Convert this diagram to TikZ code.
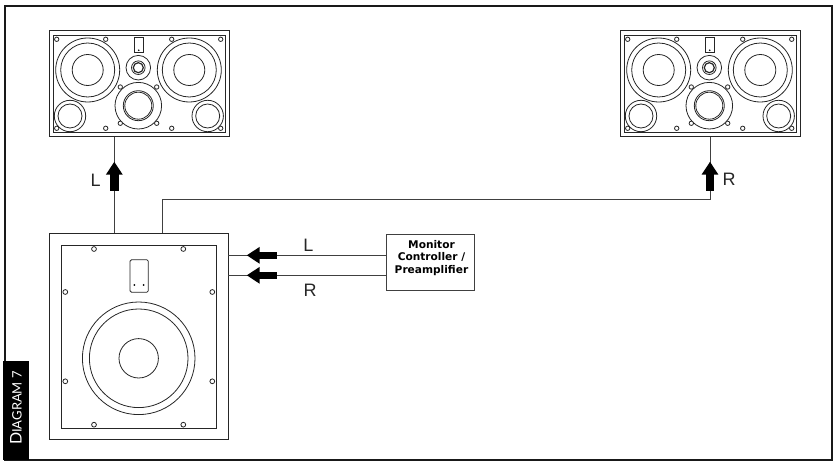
\documentclass[tikz,border=0pt]{standalone}
\usepackage{fontspec}
\setmainfont{Liberation Sans}
\newfontfamily\ctrlfont{DejaVu Sans}
\newfontfamily\tabfont{Lato}
\usetikzlibrary{arrows.meta}
\begin{document}
\begin{tikzpicture}[
	x=1pt, y=-1pt,
	frame/.style = {draw=black!90, line width=1.3pt},
	cab/.style   = {draw=black!85, line width=1pt, rectangle, inner sep=0pt},
	drv/.style   = {draw=black!85, line width=0.8pt},
	wire/.style  = {draw=black!75, line width=0.9pt},
	sig/.style   = {line width=8.5pt, -{Triangle[length=13pt,width=16pt]}},
	lab/.style   = {font=\fontsize{18}{18}\selectfont, inner sep=0pt, text=black!85},
	>=latex]
	
	\useasboundingbox (0,0) rectangle (839,465);
	
	% outer frame and side tab
	\node[frame, rectangle, inner sep=0pt, minimum width=827pt, minimum height=454pt] (border) at (418.5,233) {};
	\node[fill=black, inner sep=0pt, minimum width=99pt, minimum height=26pt, rotate=90] (tab) at (16,410.5) {};
	\node[text=white, inner sep=0pt, rotate=90, font=\tabfont\fontsize{16}{16}\selectfont] (tabtxt) at (16,408)
	      {D{\fontsize{13}{16}\selectfont IAGRAM 7}};
	
	% the two main speakers
	\foreach \side/\sx in {L/0,R/571}{
		\begin{scope}[xshift=\sx pt]
			\node[cab, minimum width=180pt, minimum height=106pt] (spk\side) at (139,84) {};
			\node[cab, line width=0.8pt, minimum width=172pt, minimum height=97pt] (baf\side) at (139,83.5) {};
			\draw[drv] (134,37.7) rectangle (143.3,52.7);
			\fill (138.7,50.3) circle (0.9);
			\foreach \cx in {87.7,189.3}{
				\draw[drv] (\cx,70) circle (32) (\cx,70) circle (27) (\cx,70) circle (15.5);
			}
			\draw[drv] (138.3,67.7) circle (12.3) (138.3,67.7) circle (6.8);
			\draw[drv, line width=1.2pt] (138.3,67.7) circle (5);
			\draw[drv] (138.3,105.7) circle (23.3) (138.3,105.7) circle (13.5);
			\draw[drv] (138.3,105.7) circle (15);
			\foreach \cx in {70,207.7}{
				\draw[drv] (\cx,116) circle (15.7) (\cx,116) circle (12);
			}
			% screws
			\foreach \cx in {56.7,105.7,171.7,220.7}{
				\draw[drv, fill=white] (\cx,39.3) circle (2.2) (\cx,128.3) circle (2.2);
			}
			\foreach \cx in {120.3,156.7}{
				\draw[drv, fill=white] (\cx,87) circle (2.2) (\cx,123.3) circle (2.2);
			}
		\end{scope}
	}
	
	% subwoofer
	\node[cab, minimum width=178.6pt, minimum height=206.7pt] (sub) at (139,336.6) {};
	\node[cab, line width=0.9pt, minimum width=155.7pt, minimum height=183.3pt] (subbaf) at (138.85,336.65) {};
	\draw[drv, rounded corners=1.5pt] (130,259.7) rectangle (148.3,292.3);
	\fill (134.3,285) circle (1) (143.7,285) circle (1);
	\draw[drv] (138.7,358.3) circle (56.3) (138.7,358.3) circle (49.3) (138.7,358.3) circle (19.7);
	\foreach \cx/\cy in {94/249,183.3/249,94/424.7,183.3/424.7,65.3/292,212.3/292,65.3/381.3,212.3/381.3}{
		\draw[drv, fill=white] (\cx,\cy) circle (2.4);
	}
	
	% controller
	\node[cab, draw=black!75, minimum width=88pt, minimum height=56pt] (ctrl) at (430,263) {};
	\node[inner sep=0pt, align=center, font=\ctrlfont\bfseries\fontsize{10.6}{12.6}\selectfont] (ctrltxt) at (431.5,258)
	      {Monitor\\Controller /\\Preamplifier};
	
	% connection points on the boxes
	\coordinate (subL) at (114.3,233.3);
	\coordinate (subR) at (162.3,233.3);
	\coordinate (inL) at (228.3,255.3);
	\coordinate (inR) at (228.3,275.3);
	
	% wires
	\draw[wire] (subL) -- (subL |- spkL.south);
	\draw[wire] (subR) |- (0,199 -| spkR.south) -- (spkR.south);
	\draw[wire] (ctrl.west |- inL) -- (inL);
	\draw[wire] (ctrl.west |- inR) -- (inR);
	
	% signal arrows
	\coordinate (upL) at (114.3,191);
	\coordinate (upR) at (710,191);
	\coordinate (upLt) at (114.3,161.7);
	\coordinate (upRt) at (710,161.7);
	\coordinate (backL) at (276.7,255.3);
	\coordinate (backR) at (276.7,275.3);
	\coordinate (backLt) at (246.7,255.3);
	\coordinate (backRt) at (246.7,275.3);
	\draw[sig] (upL) -- (upLt);
	\draw[sig] (upR) -- (upRt);
	\draw[sig, line width=7.5pt] (backL) -- (backLt);
	\draw[sig, line width=7.5pt] (backR) -- (backRt);
	
	% labels
	\node[lab] (lblUpL) at (95.7,180) {L};
	\node[lab] (lblUpR) at (729,179.5) {R};
	\node[lab] (lblInL) at (308.5,245) {L};
	\node[lab] (lblInR) at (310,290) {R};
\end{tikzpicture}
\end{document}
